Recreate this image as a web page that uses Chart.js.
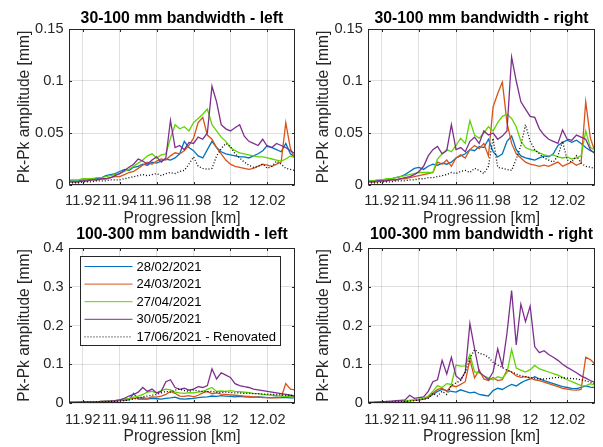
<!DOCTYPE html>
<html>
<head>
<meta charset="utf-8">
<script src="https://cdn.jsdelivr.net/npm/chart.js@4.4.1/dist/chart.umd.min.js"></script>
<style>
body { margin: 0; background: #fff; width: 603px; height: 447px; overflow: hidden; }
canvas { position: absolute; }
</style>
</head>
<body>
<canvas id="tl" width="300" height="230" style="left:0;top:0;width:300px;height:230px"></canvas>
<canvas id="tr" width="303" height="230" style="left:300px;top:0;width:303px;height:230px"></canvas>
<canvas id="bl" width="300" height="227" style="left:0;top:220px;width:300px;height:227px"></canvas>
<canvas id="br" width="303" height="227" style="left:300px;top:220px;width:303px;height:227px"></canvas>
<script>
// progression positions [km], shared by every series
var progression = [11.9125, 11.915, 11.9175, 11.92, 11.9225, 11.925, 11.9275, 11.93, 11.9325, 11.935,
    11.9375, 11.94, 11.9425, 11.945, 11.9475, 11.95, 11.9525, 11.955, 11.9575, 11.96,
    11.9625, 11.965, 11.9675, 11.97, 11.9725, 11.975, 11.9775, 11.98, 11.9825, 11.985,
    11.9875, 11.99, 11.9925, 11.995, 11.9975, 12.0, 12.0025, 12.005, 12.0075, 12.01,
    12.0125, 12.015, 12.0175, 12.02, 12.0225, 12.025, 12.0275, 12.03, 12.0325, 12.035];

var surveys = ['28/02/2021', '24/03/2021', '27/04/2021', '30/05/2021', '17/06/2021 - Renovated'];

var xTickValues = [11.92, 11.94, 11.96, 11.98, 12, 12.02];
var yTicksNarrow = [0, 0.05, 0.1, 0.15];
var yTicksWide = [0, 0.1, 0.2, 0.3, 0.4];

// 30-100 mm bandwidth - left
var narrowLeftFeb = [0.004,0.004,0.004,0.005,0.005,0.006,0.006,0.007,0.009,0.010, 0.011,0.013,0.015,0.014,0.017,0.018,0.020,0.019,0.022,0.021, 0.023,0.025,0.024,0.026,0.030,0.042,0.036,0.033,0.028,0.026, 0.034,0.042,0.036,0.032,0.030,0.029,0.028,0.027,0.027,0.026, 0.028,0.030,0.033,0.038,0.036,0.034,0.032,0.040,0.030,0.027];
var narrowLeftMar = [0.003,0.003,0.003,0.004,0.004,0.005,0.005,0.006,0.006,0.007, 0.008,0.008,0.010,0.012,0.013,0.016,0.019,0.022,0.020,0.023, 0.025,0.024,0.028,0.031,0.030,0.033,0.038,0.045,0.060,0.065, 0.048,0.044,0.036,0.030,0.024,0.020,0.018,0.017,0.016,0.015, 0.016,0.018,0.020,0.019,0.018,0.020,0.022,0.060,0.035,0.025];
var narrowLeftApr = [0.005,0.005,0.005,0.006,0.006,0.006,0.007,0.007,0.008,0.009, 0.010,0.011,0.013,0.015,0.018,0.021,0.024,0.028,0.030,0.026, 0.029,0.030,0.045,0.058,0.054,0.056,0.052,0.060,0.064,0.068, 0.073,0.058,0.052,0.046,0.042,0.036,0.033,0.031,0.030,0.029, 0.028,0.027,0.027,0.026,0.025,0.024,0.023,0.025,0.028,0.026];
var narrowLeftMay = [0.003,0.003,0.003,0.004,0.004,0.005,0.005,0.006,0.006,0.007, 0.009,0.011,0.014,0.017,0.020,0.025,0.023,0.020,0.024,0.027, 0.022,0.026,0.062,0.036,0.038,0.034,0.041,0.040,0.046,0.044, 0.050,0.095,0.080,0.058,0.054,0.052,0.055,0.058,0.047,0.042, 0.040,0.038,0.044,0.037,0.036,0.040,0.038,0.036,0.033,0.030];
var narrowLeftJun = [0.002,0.002,0.002,0.003,0.003,0.003,0.004,0.004,0.004,0.005, 0.005,0.005,0.006,0.007,0.008,0.009,0.010,0.009,0.010,0.011, 0.009,0.011,0.012,0.011,0.013,0.014,0.020,0.027,0.018,0.016, 0.015,0.016,0.028,0.035,0.040,0.037,0.030,0.026,0.022,0.019, 0.017,0.018,0.020,0.016,0.018,0.023,0.020,0.016,0.015,0.014];

// 30-100 mm bandwidth - right
var narrowRightFeb = [0.004,0.004,0.004,0.005,0.005,0.006,0.007,0.008,0.010,0.013, 0.016,0.017,0.015,0.018,0.020,0.019,0.021,0.020,0.022,0.026, 0.028,0.030,0.034,0.033,0.037,0.036,0.044,0.032,0.027,0.030, 0.042,0.047,0.034,0.028,0.026,0.025,0.024,0.026,0.028,0.027, 0.030,0.038,0.041,0.043,0.041,0.043,0.040,0.036,0.033,0.031];
var narrowRightMar = [0.003,0.003,0.003,0.004,0.004,0.005,0.005,0.006,0.006,0.007, 0.008,0.009,0.010,0.011,0.012,0.022,0.020,0.024,0.018,0.026, 0.029,0.026,0.034,0.038,0.035,0.040,0.028,0.075,0.088,0.099, 0.060,0.040,0.030,0.026,0.022,0.020,0.019,0.018,0.019,0.018, 0.020,0.022,0.018,0.020,0.022,0.019,0.021,0.080,0.045,0.032];
var narrowRightApr = [0.004,0.004,0.005,0.005,0.006,0.006,0.007,0.008,0.009,0.010, 0.011,0.012,0.012,0.012,0.012,0.025,0.030,0.034,0.032,0.038, 0.045,0.040,0.062,0.048,0.045,0.050,0.056,0.052,0.060,0.066, 0.068,0.064,0.056,0.042,0.036,0.034,0.033,0.031,0.029,0.028, 0.029,0.027,0.026,0.027,0.025,0.026,0.028,0.052,0.036,0.034];
var narrowRightMay = [0.003,0.003,0.004,0.004,0.004,0.005,0.005,0.006,0.007,0.008, 0.010,0.013,0.018,0.028,0.034,0.037,0.030,0.033,0.058,0.034, 0.036,0.032,0.042,0.046,0.040,0.052,0.048,0.050,0.044,0.047, 0.052,0.123,0.100,0.080,0.073,0.066,0.065,0.054,0.048,0.044, 0.042,0.040,0.053,0.044,0.043,0.048,0.046,0.044,0.034,0.030];
var narrowRightJun = [0.002,0.002,0.002,0.003,0.003,0.003,0.004,0.004,0.004,0.005, 0.005,0.006,0.006,0.007,0.007,0.008,0.009,0.010,0.012,0.011, 0.013,0.014,0.012,0.016,0.014,0.011,0.018,0.045,0.017,0.016, 0.015,0.014,0.025,0.038,0.058,0.042,0.034,0.030,0.026,0.024, 0.022,0.028,0.042,0.024,0.022,0.028,0.021,0.018,0.017,0.016];

// 100-300 mm bandwidth - left
var wideLeftFeb = [0.001,0.001,0.001,0.002,0.002,0.002,0.003,0.003,0.005,0.004, 0.005,0.006,0.007,0.008,0.025,0.010,0.011,0.010,0.012,0.011, 0.010,0.012,0.013,0.015,0.011,0.010,0.011,0.012,0.014,0.015, 0.016,0.018,0.017,0.019,0.018,0.017,0.016,0.017,0.016,0.015, 0.015,0.016,0.015,0.014,0.014,0.015,0.014,0.014,0.013,0.013];
var wideLeftMar = [0.001,0.001,0.002,0.002,0.002,0.003,0.003,0.004,0.004,0.005, 0.006,0.007,0.008,0.010,0.012,0.013,0.014,0.012,0.016,0.015, 0.018,0.022,0.030,0.025,0.018,0.017,0.019,0.016,0.020,0.026, 0.030,0.024,0.026,0.023,0.022,0.021,0.020,0.019,0.018,0.017, 0.016,0.015,0.014,0.014,0.013,0.013,0.014,0.050,0.036,0.034];
var wideLeftApr = [0.002,0.002,0.002,0.002,0.003,0.003,0.003,0.004,0.004,0.005, 0.006,0.008,0.010,0.012,0.015,0.018,0.022,0.028,0.030,0.026, 0.032,0.036,0.034,0.028,0.026,0.025,0.027,0.026,0.028,0.030, 0.035,0.040,0.030,0.031,0.030,0.032,0.030,0.029,0.028,0.027, 0.025,0.024,0.022,0.021,0.020,0.019,0.018,0.017,0.017,0.016];
var wideLeftMay = [0.002,0.002,0.002,0.002,0.003,0.003,0.003,0.004,0.004,0.005, 0.006,0.008,0.012,0.018,0.022,0.028,0.040,0.030,0.036,0.026, 0.030,0.055,0.060,0.040,0.035,0.038,0.033,0.036,0.042,0.040, 0.045,0.088,0.062,0.078,0.072,0.066,0.050,0.045,0.042,0.040, 0.036,0.034,0.032,0.030,0.028,0.026,0.024,0.022,0.020,0.018];
var wideLeftJun = [0.001,0.001,0.001,0.002,0.002,0.002,0.003,0.003,0.003,0.004, 0.004,0.005,0.006,0.008,0.010,0.013,0.016,0.018,0.020,0.022, 0.026,0.030,0.028,0.033,0.036,0.032,0.030,0.034,0.031,0.030, 0.029,0.030,0.028,0.027,0.028,0.027,0.026,0.026,0.025,0.025, 0.024,0.024,0.023,0.023,0.022,0.022,0.021,0.020,0.020,0.019];

// 100-300 mm bandwidth - right
var wideRightFeb = [0.001,0.001,0.001,0.002,0.002,0.002,0.003,0.004,0.005,0.006, 0.007,0.008,0.010,0.014,0.022,0.030,0.035,0.032,0.030,0.028, 0.034,0.030,0.026,0.028,0.022,0.020,0.018,0.032,0.038,0.035, 0.042,0.048,0.044,0.052,0.058,0.062,0.068,0.062,0.058,0.054, 0.050,0.046,0.042,0.040,0.038,0.037,0.040,0.044,0.041,0.040];
var wideRightMar = [0.001,0.001,0.001,0.002,0.002,0.003,0.003,0.004,0.005,0.006, 0.007,0.008,0.010,0.015,0.025,0.035,0.038,0.030,0.045,0.042, 0.048,0.055,0.112,0.065,0.085,0.062,0.058,0.066,0.058,0.060, 0.085,0.080,0.070,0.066,0.068,0.064,0.060,0.058,0.054,0.050, 0.046,0.042,0.038,0.036,0.034,0.033,0.035,0.118,0.112,0.100];
var wideRightApr = [0.001,0.001,0.002,0.002,0.003,0.003,0.004,0.005,0.006,0.007, 0.008,0.010,0.012,0.018,0.030,0.045,0.040,0.050,0.048,0.098, 0.095,0.096,0.125,0.080,0.078,0.070,0.065,0.060,0.068,0.064, 0.078,0.138,0.090,0.085,0.080,0.086,0.097,0.088,0.084,0.080, 0.076,0.072,0.066,0.060,0.055,0.050,0.045,0.044,0.050,0.046];
var wideRightMay = [0.002,0.002,0.003,0.003,0.004,0.005,0.006,0.007,0.008,0.020, 0.012,0.014,0.016,0.030,0.055,0.060,0.110,0.075,0.118,0.070, 0.060,0.080,0.205,0.140,0.080,0.070,0.060,0.080,0.140,0.095, 0.180,0.290,0.150,0.255,0.210,0.250,0.145,0.130,0.135,0.125, 0.118,0.110,0.100,0.092,0.085,0.078,0.070,0.064,0.058,0.053];
var wideRightJun = [0.001,0.001,0.001,0.002,0.002,0.002,0.003,0.003,0.004,0.005, 0.006,0.008,0.010,0.012,0.025,0.018,0.030,0.022,0.045,0.052, 0.058,0.080,0.115,0.138,0.128,0.125,0.118,0.105,0.098,0.092, 0.085,0.080,0.075,0.070,0.068,0.066,0.064,0.062,0.062,0.063, 0.065,0.066,0.065,0.064,0.063,0.062,0.060,0.057,0.054,0.050];

var seriesColors = ['#0072BD', '#D95319', '#5fd400', '#7E2F8E', '#000000'];
var fontFamily = '"Liberation Sans", Arial, Helvetica, sans-serif';
var gridColor = 'rgba(38, 38, 38, 0.15)';
var axisColor = '#262626';

Chart.defaults.font.family = fontFamily;
Chart.defaults.color = axisColor;

// box round the axes with small inward ticks, like the original figure
var framePlugin = {
    id: 'frame',
    afterDatasetsDraw: function (chart) {
        var a = chart.chartArea, ctx = chart.ctx;
        var l = Math.round(a.left) + 0.5, r = Math.round(a.right) - 0.5;
        var t = Math.round(a.top) + 0.5, b = Math.round(a.bottom) - 0.5;
        ctx.save();
        ctx.strokeStyle = axisColor;
        ctx.lineWidth = 1;
        ctx.strokeRect(l, t, r - l, b - t);
        ctx.beginPath();
        chart.scales.x.ticks.forEach(function (tk) {
            var px = Math.round(chart.scales.x.getPixelForValue(tk.value)) + 0.5;
            ctx.moveTo(px, b); ctx.lineTo(px, b - 2.5);
            ctx.moveTo(px, t); ctx.lineTo(px, t + 2.5);
        });
        chart.scales.y.ticks.forEach(function (tk) {
            var py = Math.round(chart.scales.y.getPixelForValue(tk.value)) + 0.5;
            ctx.moveTo(l, py); ctx.lineTo(l + 2.5, py);
            ctx.moveTo(r, py); ctx.lineTo(r - 2.5, py);
        });
        ctx.stroke();
        ctx.restore();
    }
};

// boxed legend inside the axes
var legendBoxPlugin = {
    id: 'legendBox',
    afterDraw: function (chart, args, opts) {
        if (!opts.show) return;
        var a = chart.chartArea, ctx = chart.ctx;
        var x0 = Math.round(a.left + 11) + 0.5, y0 = Math.round(a.top + 8) + 0.5;
        var w = 200, h = 89;
        ctx.save();
        ctx.fillStyle = '#ffffff';
        ctx.fillRect(x0, y0, w, h);
        ctx.strokeStyle = axisColor;
        ctx.lineWidth = 1;
        ctx.strokeRect(x0, y0, w, h);
        ctx.font = '13px ' + fontFamily;
        ctx.textBaseline = 'middle';
        ctx.textAlign = 'left';
        chart.data.datasets.forEach(function (ds, i) {
            var y = y0 + 10 + i * 17.6;
            ctx.strokeStyle = ds.borderColor;
            ctx.lineWidth = 1;
            ctx.setLineDash(ds.borderDash || []);
            ctx.beginPath();
            ctx.moveTo(x0 + 4, y);
            ctx.lineTo(x0 + 52, y);
            ctx.stroke();
            ctx.setLineDash([]);
            ctx.fillStyle = '#000000';
            ctx.fillText(ds.label, x0 + 56, y + 0.5);
        });
        ctx.restore();
    }
};

function makeChart(p) {
    var datasets = p.series.map(function (values, i) {
        return {
            label: surveys[i],
            data: progression.map(function (x, j) { return { x: x, y: values[j] }; }),
            borderColor: seriesColors[i],
            borderWidth: 1.3,
            borderDash: i === 4 ? [1, 2] : [],
            pointRadius: 0,
            tension: 0,
            order: 4 - i
        };
    });
    var titleSize = 15.8, labelSize = 15.6, tickSize = 14.6;
    new Chart(document.getElementById(p.id), {
        type: 'line',
        data: { datasets: datasets },
        plugins: [framePlugin, legendBoxPlugin],
        options: {
            responsive: false,
            animation: false,
            devicePixelRatio: 1,
            layout: { padding: { left: 0, top: 0, right: p.w - p.area.r, bottom: 0 } },
            plugins: {
                legend: { display: false },
                tooltip: { enabled: false },
                legendBox: { show: !!p.legend },
                title: {
                    display: true,
                    text: p.title,
                    fullSize: false,
                    color: '#000000',
                    font: { size: titleSize, weight: 'bold' },
                    padding: { top: p.titleTop, bottom: p.area.t - p.titleTop - titleSize * 1.2 }
                }
            },
            scales: {
                x: {
                    type: 'linear',
                    min: 11.9125,
                    max: 12.035,
                    afterBuildTicks: function (s) {
                        s.ticks = xTickValues.map(function (v) { return { value: v }; });
                    },
                    afterFit: function (s) { s.height = p.h - p.area.b; },
                    grid: { color: gridColor, drawTicks: false },
                    border: { display: false },
                    ticks: {
                        autoSkip: false, maxRotation: 0, minRotation: 0,
                        padding: p.xTickPad, color: axisColor, font: { size: tickSize },
                        callback: function (v) { return String(v); }
                    },
                    title: {
                        display: true, text: 'Progression [km]', color: axisColor,
                        font: { size: labelSize }, padding: { top: 0, bottom: p.xTitleBottom }
                    }
                },
                y: {
                    min: 0,
                    max: p.yTicks[p.yTicks.length - 1],
                    afterBuildTicks: function (s) {
                        s.ticks = p.yTicks.map(function (v) { return { value: v }; });
                    },
                    afterFit: function (s) { s.width = p.area.l; },
                    grid: { color: gridColor, drawTicks: false },
                    border: { display: false },
                    ticks: {
                        padding: p.yTickPad, color: axisColor, font: { size: tickSize },
                        callback: function (v) { return String(v); }
                    },
                    title: {
                        display: true, text: 'Pk-Pk amplitude [mm]', color: axisColor,
                        font: { size: labelSize }, padding: { top: p.yTitleLeft, bottom: 0 }
                    }
                }
            }
        }
    });
}

var panels = [
    { id: 'tl', title: '30-100 mm bandwidth - left', w: 300, h: 230,
      area: { l: 69, t: 29, r: 295, b: 185 }, titleTop: 8.8, xTickPad: 7, xTitleBottom: 2,
      yTickPad: 5.5, yTitleLeft: 15, yTicks: yTicksNarrow,
      series: [narrowLeftFeb, narrowLeftMar, narrowLeftApr, narrowLeftMay, narrowLeftJun] },
    { id: 'tr', title: '30-100 mm bandwidth - right', w: 303, h: 230,
      area: { l: 68, t: 29, r: 295, b: 185 }, titleTop: 8.8, xTickPad: 7, xTitleBottom: 2,
      yTickPad: 5.2, yTitleLeft: 14.5, yTicks: yTicksNarrow,
      series: [narrowRightFeb, narrowRightMar, narrowRightApr, narrowRightMay, narrowRightJun] },
    { id: 'bl', title: '100-300 mm bandwidth - left', w: 300, h: 227, legend: true,
      area: { l: 69, t: 28, r: 295, b: 183 }, titleTop: 5.3, xTickPad: 8, xTitleBottom: 0.8,
      yTickPad: 5.5, yTitleLeft: 15, yTicks: yTicksWide,
      series: [wideLeftFeb, wideLeftMar, wideLeftApr, wideLeftMay, wideLeftJun] },
    { id: 'br', title: '100-300 mm bandwidth - right', w: 303, h: 227,
      area: { l: 68, t: 28, r: 295, b: 183 }, titleTop: 5.3, xTickPad: 8, xTitleBottom: 0.8,
      yTickPad: 5.2, yTitleLeft: 14.5, yTicks: yTicksWide,
      series: [wideRightFeb, wideRightMar, wideRightApr, wideRightMay, wideRightJun] }
];

panels.forEach(makeChart);
</script>
</body>
</html>
